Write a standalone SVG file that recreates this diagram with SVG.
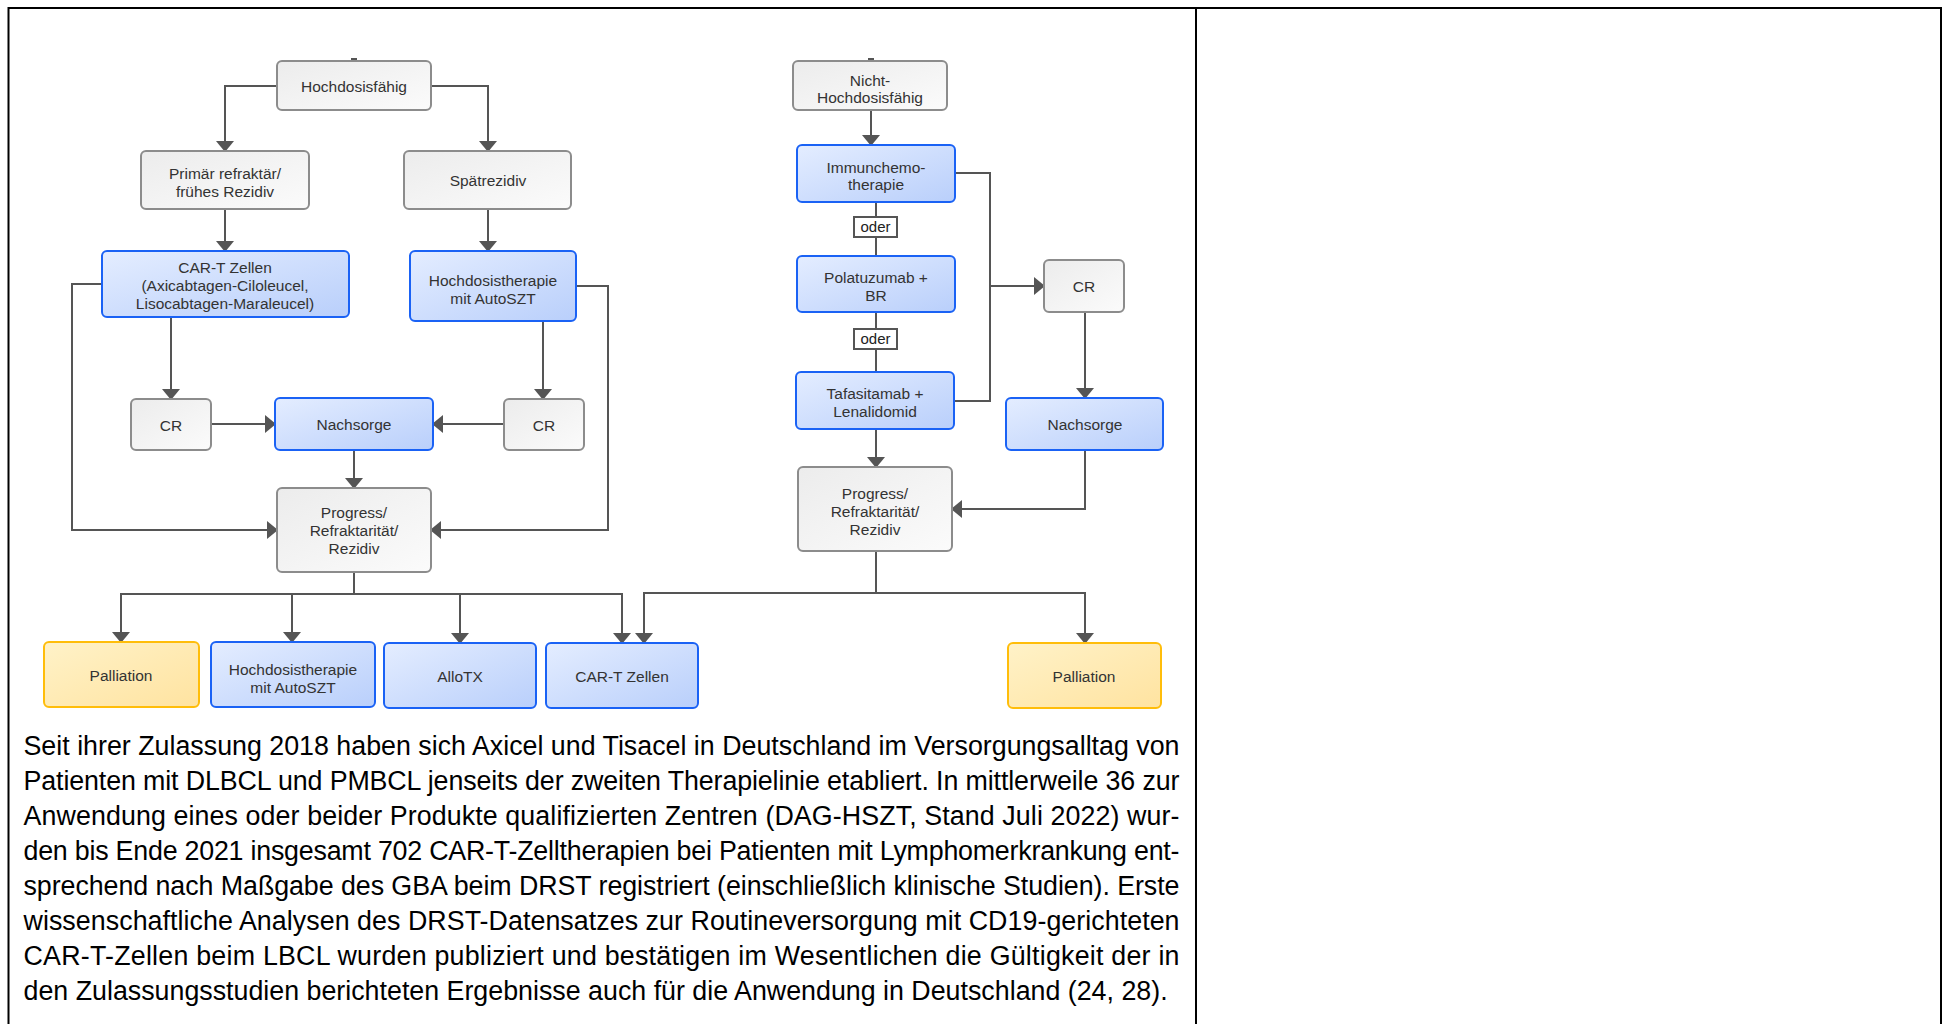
<svg xmlns="http://www.w3.org/2000/svg" width="1943" height="1024" viewBox="0 0 1943 1024">
<defs>
<linearGradient id="gBlue" x1="0" y1="0" x2="1" y2="1">
<stop offset="0" stop-color="#e4edff"/>
<stop offset="1" stop-color="#b9cffb"/>
</linearGradient>
<linearGradient id="gGray" x1="0" y1="0" x2="1" y2="1">
<stop offset="0" stop-color="#ececec"/>
<stop offset="1" stop-color="#fbfbfb"/>
</linearGradient>
<linearGradient id="gYellow" x1="0" y1="0" x2="1" y2="1">
<stop offset="0" stop-color="#fff2c8"/>
<stop offset="1" stop-color="#ffe3a0"/>
</linearGradient>
<marker id="arr" markerUnits="userSpaceOnUse" markerWidth="11" markerHeight="18" viewBox="0 0 11 18" refX="10" refY="9" orient="auto">
<path d="M0,0 L11,9 L0,18 z" fill="#555"/>
</marker>
<style>
.gray{fill:url(#gGray);stroke:#8c8c8c;stroke-width:2}
.blue{fill:url(#gBlue);stroke:#1a62f5;stroke-width:2}
.yellow{fill:url(#gYellow);stroke:#ffbd0a;stroke-width:2}
.oder{fill:#fff;stroke:#555;stroke-width:2}
.lbl{font-family:"Liberation Sans",Arial,sans-serif;font-size:15.5px;fill:#333;text-anchor:middle}
.con{fill:none;stroke:#555;stroke-width:2}
.arw{marker-end:url(#arr)}
.body{font-family:"Liberation Sans",Arial,sans-serif;font-size:26.8px;fill:#000}
.tbl{fill:none;stroke:#000;stroke-width:2}
</style>
</defs>
<rect width="1943" height="1024" fill="#fff"/>
<g id="table">
<path class="tbl" d="M8.5,1024 V8 H1941 V1024 M1196,8 V1024"/>
</g>
<g id="connectors">
<rect x="351" y="58" width="6" height="3" fill="#555"/>
<rect x="868" y="58" width="6" height="3" fill="#555"/>
<path class="con arw" d="M277,86 H225 V151"/>
<path class="con arw" d="M431,86 H488 V151"/>
<path class="con arw" d="M225,209 V251"/>
<path class="con arw" d="M488,209 V251"/>
<path class="con arw" d="M171,317 V399"/>
<path class="con arw" d="M543,321 V399"/>
<path class="con arw" d="M211,424 H275"/>
<path class="con arw" d="M504,424 H433"/>
<path class="con arw" d="M354,450 V488"/>
<path class="con arw" d="M102,284 H72 V530 H277"/>
<path class="con arw" d="M576,286 H608 V530 H431"/>
<path class="con" d="M354,572 V594"/>
<path class="con arw" d="M354,594 H121 V642"/>
<path class="con arw" d="M354,594 H292 V642"/>
<path class="con arw" d="M354,594 H460 V643"/>
<path class="con arw" d="M354,594 H622 V643"/>
<path class="con arw" d="M871,110 V145"/>
<path class="con" d="M876,202 V217 M876,237 V256"/>
<path class="con" d="M876,312 V329 M876,349 V372"/>
<path class="con" d="M955,173 H990 V401 H954"/>
<path class="con arw" d="M990,286 H1044"/>
<path class="con arw" d="M1085,312 V398"/>
<path class="con arw" d="M1085,450 V509 H952"/>
<path class="con arw" d="M876,429 V467"/>
<path class="con" d="M876,551 V593"/>
<path class="con arw" d="M876,593 H644 V643"/>
<path class="con arw" d="M876,593 H1085 V643"/>
</g>
<g id="n_hochdosisfaehig"><rect class="gray" x="277" y="61" width="154" height="49" rx="5"/><text class="lbl" x="354" y="91.5">Hochdosisfähig</text></g>
<g id="n_primaer"><rect class="gray" x="141" y="151" width="168" height="58" rx="5"/><text class="lbl" x="225" y="178.5">Primär refraktär/</text><text class="lbl" x="225" y="196.5">frühes Rezidiv</text></g>
<g id="n_spaetrezidiv"><rect class="gray" x="404" y="151" width="167" height="58" rx="5"/><text class="lbl" x="488" y="185.5">Spätrezidiv</text></g>
<g id="n_cart1"><rect class="blue" x="102" y="251" width="247" height="66" rx="5"/><text class="lbl" x="225" y="272.5">CAR-T Zellen</text><text class="lbl" x="225" y="290.5">(Axicabtagen-Ciloleucel,</text><text class="lbl" x="225" y="308.5">Lisocabtagen-Maraleucel)</text></g>
<g id="n_hdt1"><rect class="blue" x="410" y="251" width="166" height="70" rx="5"/><text class="lbl" x="493" y="285.5">Hochdosistherapie</text><text class="lbl" x="493" y="303.5">mit AutoSZT</text></g>
<g id="n_cr1"><rect class="gray" x="131" y="399" width="80" height="51" rx="5"/><text class="lbl" x="171" y="430.5">CR</text></g>
<g id="n_nachsorge1"><rect class="blue" x="275" y="398" width="158" height="52" rx="5"/><text class="lbl" x="354" y="429.5">Nachsorge</text></g>
<g id="n_cr2"><rect class="gray" x="504" y="399" width="80" height="51" rx="5"/><text class="lbl" x="544" y="430.5">CR</text></g>
<g id="n_progress1"><rect class="gray" x="277" y="488" width="154" height="84" rx="5"/><text class="lbl" x="354" y="518">Progress/</text><text class="lbl" x="354" y="536">Refraktarität/</text><text class="lbl" x="354" y="554">Rezidiv</text></g>
<g id="n_palliation1"><rect class="yellow" x="44" y="642" width="155" height="65" rx="5"/><text class="lbl" x="121" y="681">Palliation</text></g>
<g id="n_hdt2"><rect class="blue" x="211" y="642" width="164" height="65" rx="5"/><text class="lbl" x="293" y="674.5">Hochdosistherapie</text><text class="lbl" x="293" y="692.5">mit AutoSZT</text></g>
<g id="n_allotx"><rect class="blue" x="384" y="643" width="152" height="65" rx="5"/><text class="lbl" x="460" y="682">AlloTX</text></g>
<g id="n_cart2"><rect class="blue" x="546" y="643" width="152" height="65" rx="5"/><text class="lbl" x="622" y="682">CAR-T Zellen</text></g>
<g id="n_nicht"><rect class="gray" x="793" y="61" width="154" height="49" rx="5"/><text class="lbl" x="870" y="85.5">Nicht-</text><text class="lbl" x="870" y="102.5">Hochdosisfähig</text></g>
<g id="n_immunchemo"><rect class="blue" x="797" y="145" width="158" height="57" rx="5"/><text class="lbl" x="876" y="172.5">Immunchemo-</text><text class="lbl" x="876" y="189.5">therapie</text></g>
<g id="n_oder1"><rect class="oder" x="854" y="217" width="43" height="20"/><text class="lbl" x="875.5" y="232" style="font-size:15px;fill:#222">oder</text></g>
<g id="n_polatuzumab"><rect class="blue" x="797" y="256" width="158" height="56" rx="5"/><text class="lbl" x="876" y="282.5">Polatuzumab +</text><text class="lbl" x="876" y="300.5">BR</text></g>
<g id="n_oder2"><rect class="oder" x="854" y="329" width="43" height="20"/><text class="lbl" x="875.5" y="344" style="font-size:15px;fill:#222">oder</text></g>
<g id="n_tafasitamab"><rect class="blue" x="796" y="372" width="158" height="57" rx="5"/><text class="lbl" x="875" y="398.5">Tafasitamab +</text><text class="lbl" x="875" y="417">Lenalidomid</text></g>
<g id="n_cr3"><rect class="gray" x="1044" y="260" width="80" height="52" rx="5"/><text class="lbl" x="1084" y="291.5">CR</text></g>
<g id="n_nachsorge2"><rect class="blue" x="1006" y="398" width="157" height="52" rx="5"/><text class="lbl" x="1085" y="429.5">Nachsorge</text></g>
<g id="n_progress2"><rect class="gray" x="798" y="467" width="154" height="84" rx="5"/><text class="lbl" x="875" y="498.5">Progress/</text><text class="lbl" x="875" y="516.5">Refraktarität/</text><text class="lbl" x="875" y="534.5">Rezidiv</text></g>
<g id="n_palliation2"><rect class="yellow" x="1008" y="643" width="153" height="65" rx="5"/><text class="lbl" x="1084" y="682">Palliation</text></g>
<g id="paragraph">
<text class="body" x="23.5" y="755" textLength="1156" lengthAdjust="spacing">Seit ihrer Zulassung 2018 haben sich Axicel und Tisacel in Deutschland im Versorgungsalltag von</text>
<text class="body" x="23.5" y="790" textLength="1156" lengthAdjust="spacing">Patienten mit DLBCL und PMBCL jenseits der zweiten Therapielinie etabliert. In mittlerweile 36 zur</text>
<text class="body" x="23.5" y="825" textLength="1156" lengthAdjust="spacing">Anwendung eines oder beider Produkte qualifizierten Zentren (DAG-HSZT, Stand Juli 2022) wur-</text>
<text class="body" x="23.5" y="860" textLength="1156" lengthAdjust="spacing">den bis Ende 2021 insgesamt 702 CAR-T-Zelltherapien bei Patienten mit Lymphomerkrankung ent-</text>
<text class="body" x="23.5" y="895" textLength="1156" lengthAdjust="spacing">sprechend nach Maßgabe des GBA beim DRST registriert (einschließlich klinische Studien). Erste</text>
<text class="body" x="23.5" y="930" textLength="1156" lengthAdjust="spacing">wissenschaftliche Analysen des DRST-Datensatzes zur Routineversorgung mit CD19-gerichteten</text>
<text class="body" x="23.5" y="965" textLength="1156" lengthAdjust="spacing">CAR-T-Zellen beim LBCL wurden publiziert und bestätigen im Wesentlichen die Gültigkeit der in</text>
<text class="body" x="23.5" y="1000">den Zulassungsstudien berichteten Ergebnisse auch für die Anwendung in Deutschland (24, 28).</text>
</g>
</svg>
